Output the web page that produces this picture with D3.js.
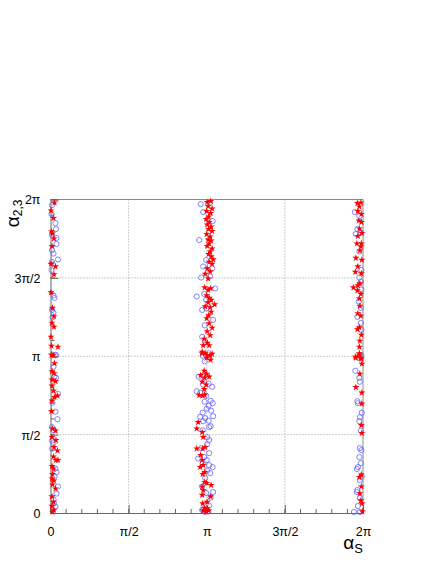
<!DOCTYPE html>
<html><head><meta charset="utf-8">
<script src="https://cdn.jsdelivr.net/npm/d3@7"></script>
<style>body{margin:0;background:#fff}svg{display:block}</style>
</head><body>
<script>
// ---- data (radians) ----
const xTickValues = [0, Math.PI/2, Math.PI, 3*Math.PI/2, 2*Math.PI];
const xTickLabels = ["0", "π/2", "π", "3π/2", "2π"];
const yTickValues = [0, Math.PI/2, Math.PI, 3*Math.PI/2, 2*Math.PI];
const yTickLabels = ["0", "π/2", "π", "3π/2", "2π"];

// blue open circles
const blueAlphaS = [
 3.02,3.21,3.07,3.26,2.99,3.13,3.07,3.25,3.03,3.21,3.31,2.94,3.09,3.13,3.05,3.14,3.27,3.10,3.05,3.11,3.18,
 3.06,3.19,3.10,3.07,2.98,3.07,3.18,3.25,2.94,3.01,3.13,3.10,3.22,3.26,3.18,3.14,3.23,3.06,3.27,3.01,3.11,3.18,3.07,3.22,3.19,3.06,3.15,3.19,3.15,3.03,3.19,2.97,3.09,3.14,3.06,3.19,3.26,3.15,3.21,3.11,3.05,3.27,3.13,3.22,3.19,3.07,3.11,3.17,3.05,
 0.03,0.02,0.10,0.11,0.03,0.12,0.12,0.03,0.06,0.15,0.03,0.02,0.06,0.08,0.03,0.06,0.04,0.10,
 0.11,0.06,0.08,0.11,0.15,0.04,0.10,0.14,0.03,0.07,0.03,0.06,0.03,0.10,0.12,0.08,0.15,0.12,0.06,0.07,0.10,
 6.12,6.21,6.17,6.14,6.24,6.21,6.25,6.21,6.24,6.25,6.20,6.24,6.17,6.24,6.25,6.20,6.25,
 6.22,6.13,6.21,6.22,6.17,6.18,6.26,6.22,6.21,6.24,6.22,6.25,6.21,6.24,6.18,6.16,6.26,6.22,6.17,6.16,6.22,6.18,6.10,6.22
];
const blueAlpha23 = [
 6.19,6.22,6.03,5.85,5.47,5.07,4.94,4.90,4.72,4.74,4.50,4.34,4.39,4.27,4.07,4.10,3.87,3.76,3.53,3.43,3.20,
 3.15,3.13,3.04,2.75,2.73,2.57,2.59,2.53,2.44,2.41,2.35,2.23,2.25,2.20,2.15,2.09,2.05,2.01,1.94,1.93,1.90,1.85,1.84,1.74,1.72,1.66,1.52,1.46,1.38,1.30,1.20,1.09,1.12,1.06,1.00,0.96,0.92,0.85,0.80,0.70,0.53,0.42,0.40,0.31,0.15,0.07,0.02,0.03,0.06,
 6.17,5.99,5.81,5.69,5.58,5.51,5.39,5.27,5.20,5.08,5.03,4.87,4.36,4.31,4.07,4.01,3.92,3.17,
 3.16,2.93,2.73,2.71,2.39,2.21,2.03,1.88,1.72,1.66,1.45,1.40,1.29,0.89,0.82,0.73,0.53,0.39,0.27,0.19,0.13,
 6.03,5.95,5.69,5.59,5.62,5.24,4.87,4.72,4.63,4.48,4.24,4.11,3.93,3.81,3.67,3.11,3.16,
 3.16,2.85,2.71,2.63,2.24,2.20,2.01,1.92,1.84,1.65,1.30,1.26,1.12,1.00,0.92,0.88,0.73,0.66,0.46,0.42,0.30,0.14,0.02,0.02
];

// red filled stars
const redAlphaS = [
 3.15,3.22,3.17,3.25,3.14,3.22,3.18,3.13,3.19,3.15,3.23,3.18,3.25,3.14,3.21,3.17,3.23,3.19,3.15,3.25,3.21,3.18,3.23,3.27,3.19,3.25,3.15,3.21,3.11,3.17,3.10,3.17,3.22,3.14,3.19,3.23,3.17,3.30,3.11,3.21,3.23,3.18,3.14,3.19,3.25,3.15,3.21,3.09,3.15,3.07,3.19,3.05,3.11,3.21,3.14,
 3.05,3.15,3.25,3.22,3.09,3.14,3.02,3.10,3.19,3.05,3.13,3.09,2.99,3.06,3.10,2.97,2.94,3.05,3.07,2.94,3.06,3.11,3.02,3.05,3.01,3.07,3.10,3.06,3.10,3.14,3.05,3.23,3.07,3.05,3.22,3.15,3.06,3.10,3.15,3.13,3.07,3.18,
 0.08,0.01,0.06,0.02,0.04,0.07,0.03,0.01,0.10,0.07,0.01,0.04,0.07,0.03,0.07,0.01,0.02,0.15,0.02,0.06,
 0.03,0.08,0.03,0.07,0.03,0.10,0.03,0.06,0.14,0.08,0.03,0.02,0.04,0.10,0.03,0.11,0.07,0.14,0.06,0.11,0.15,0.03,0.06,0.04,0.03,0.07,0.04,0.10,0.03,0.06,0.03,0.07,0.04,
 6.17,6.24,6.21,6.18,6.25,6.20,6.25,6.21,6.26,6.18,6.16,6.25,6.24,6.22,6.14,6.26,6.18,6.13,6.25,6.22,6.09,6.18,6.17,6.24,6.21,6.22,6.18,6.24,6.21,6.17,6.25,6.22,6.21,6.13,6.21,6.24,
 6.21,6.14,6.25,6.26,6.22,6.14,6.26,6.26,6.25,6.26,6.25,6.21,6.25,6.22,6.24,6.26,6.27
];
const redAlpha23 = [
 6.23,6.25,6.15,6.10,6.05,6.01,5.94,5.89,5.83,5.78,5.74,5.69,5.65,5.59,5.54,5.48,5.46,5.40,5.35,5.30,5.24,5.19,5.14,5.08,5.03,4.99,4.90,4.84,4.79,4.70,4.52,4.47,4.50,4.36,4.31,4.27,4.22,4.18,4.14,4.12,4.03,3.96,3.90,3.80,3.71,3.64,3.56,3.49,3.41,3.36,3.36,3.23,3.20,3.16,3.11,
 3.20,3.16,3.19,3.07,2.85,2.79,2.76,2.71,2.73,2.63,2.57,2.48,2.36,2.35,2.37,1.82,1.69,1.62,1.52,1.29,1.29,1.32,1.16,1.06,0.92,0.96,0.82,0.78,0.62,0.60,0.53,0.56,0.46,0.36,0.33,0.22,0.19,0.10,0.09,0.03,0.05,0.05,
 6.22,6.06,5.91,5.64,5.60,5.50,5.35,4.99,4.94,4.78,4.42,4.11,3.94,3.81,3.73,3.53,3.35,3.33,3.17,3.16,
 3.17,3.00,2.84,2.80,2.67,2.64,2.55,2.45,2.35,2.32,2.25,2.04,1.69,1.65,1.52,1.46,1.32,1.25,1.13,1.06,1.06,0.94,0.89,0.78,0.69,0.65,0.57,0.49,0.33,0.22,0.14,0.06,0.02,
 6.21,6.22,6.14,6.05,5.99,5.86,5.83,5.70,5.61,5.55,5.40,5.40,5.34,5.26,5.11,5.07,4.94,4.83,4.80,4.60,4.52,4.56,4.46,4.39,4.30,4.15,4.00,3.95,3.72,3.68,3.57,3.45,3.33,3.13,3.17,3.11,
 3.20,3.11,3.09,2.99,2.79,2.52,2.41,2.19,1.76,1.60,0.77,0.72,0.53,0.39,0.25,0.19,0.03
];

// ---- layout ----
const W = 436, H = 564;
const L = 50.5, R = 363, T = 199.5, B = 513;
const svg = d3.select("body").append("svg").attr("width", W).attr("height", H);
const x = d3.scaleLinear().domain([0, 2*Math.PI]).range([L, R]);
const y = d3.scaleLinear().domain([0, 2*Math.PI]).range([B, T]);
const font = "'Liberation Sans', Arial, Helvetica, sans-serif";

// grid
const g = svg.append("g");
[Math.PI/2, Math.PI, 3*Math.PI/2].forEach(v => {
  g.append("line").attr("x1", x(v)).attr("x2", x(v)).attr("y1", T).attr("y2", B)
   .attr("stroke", "#9a9a9a").attr("stroke-width", 1).attr("stroke-dasharray", "1,2");
  g.append("line").attr("x1", L).attr("x2", R).attr("y1", y(v)).attr("y2", y(v))
   .attr("stroke", "#9a9a9a").attr("stroke-width", 1).attr("stroke-dasharray", "1,2");
});

// frame top/right
svg.append("line").attr("x1", L).attr("x2", R).attr("y1", T).attr("y2", T).attr("stroke", "#8c8c8c");
svg.append("line").attr("x1", R).attr("x2", R).attr("y1", T).attr("y2", B).attr("stroke", "#8c8c8c");

// minor ticks
const minor = d3.range(0, 21).map(i => i * Math.PI / 10);
// x axis
const xAxis = d3.axisBottom(x).tickValues(xTickValues).tickFormat((d, i) => xTickLabels[i]).tickSize(-8).tickPadding(14);
const gx = svg.append("g").attr("transform", `translate(0,${B})`).call(xAxis);
gx.selectAll("line").attr("stroke", "#666");
gx.select(".domain").attr("stroke", "#666");
gx.selectAll("text").attr("font-family", font).attr("font-size", 12.5).attr("fill", "#000");
svg.append("g").selectAll("line").data(minor).join("line")
  .attr("x1", d => x(d)).attr("x2", d => x(d)).attr("y1", B).attr("y2", B - 4).attr("stroke", "#666");

// y axis
const yAxis = d3.axisLeft(y).tickValues(yTickValues).tickFormat((d, i) => yTickLabels[i]).tickSize(-8).tickPadding(10);
const gy = svg.append("g").attr("transform", `translate(${L},0)`).call(yAxis);
gy.selectAll("line").attr("stroke", "#666");
gy.select(".domain").attr("stroke", "#666");
gy.selectAll("text").attr("font-family", font).attr("font-size", 12.5).attr("fill", "#000").attr("dy", "0.35em");
svg.append("g").selectAll("line").data(minor).join("line")
  .attr("y1", d => y(d)).attr("y2", d => y(d)).attr("x1", L).attr("x2", L + 4).attr("stroke", "#666");

// points
const blue = blueAlphaS.map((v, i) => [v, blueAlpha23[i]]);
const red = redAlphaS.map((v, i) => [v, redAlpha23[i]]);
svg.append("g").selectAll("circle").data(blue).join("circle")
  .attr("cx", d => x(d[0])).attr("cy", d => y(d[1])).attr("r", 2.6)
  .attr("fill", "none").attr("stroke", "#6464ff").attr("stroke-width", 0.8);
const star = d3.symbol().type(d3.symbolStar).size(16);
svg.append("g").selectAll("path").data(red).join("path")
  .attr("transform", d => `translate(${x(d[0])},${y(d[1])})`).attr("d", star)
  .attr("fill", "#ff0000");

// axis titles
const xt = svg.append("text").attr("x", R).attr("y", 549).attr("text-anchor", "end")
  .attr("font-family", font).attr("fill", "#000");
xt.append("tspan").attr("font-size", 19).text("α");
xt.append("tspan").attr("font-size", 13).attr("dy", 4).text("S");

const yt = svg.append("text").attr("transform", `translate(19,${T}) rotate(-90)`).attr("text-anchor", "end")
  .attr("font-family", font).attr("fill", "#000");
yt.append("tspan").attr("font-size", 19).text("α");
yt.append("tspan").attr("font-size", 12).attr("dy", 3).text("2,3");
</script>
</body></html>
